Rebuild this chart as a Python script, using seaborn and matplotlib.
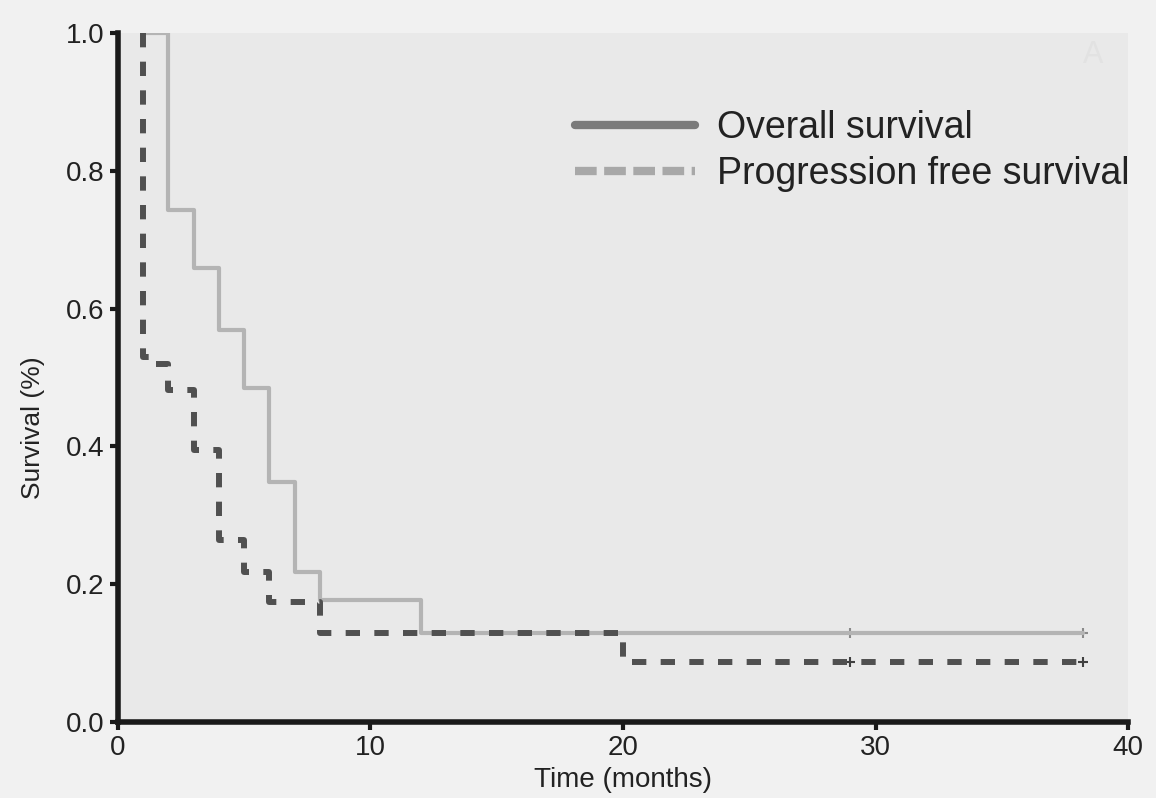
import seaborn as sns
import matplotlib.pyplot as plt
import pandas as pd
from matplotlib.lines import Line2D

# Kaplan-Meier step data (time in months, survival fraction)
os_time = [1, 2, 3, 4, 5, 6, 7, 8, 12, 38.2]
os_surv = [1.0, 0.743, 0.659, 0.569, 0.485, 0.348, 0.218, 0.177, 0.13, 0.13]

pfs_time = [1, 1, 1.4, 2, 3, 4, 5, 6, 8, 20, 38.2]
pfs_surv = [1.0, 0.53, 0.52, 0.482, 0.395, 0.264, 0.218, 0.175, 0.13, 0.088, 0.088]

# censored observations
cens_time = [29, 38.2]
os_cens = [0.13, 0.13]
pfs_cens = [0.088, 0.088]

x_ticks = [0, 10, 20, 30, 40]
y_ticks = [0.0, 0.2, 0.4, 0.6, 0.8, 1.0]

df = pd.concat([
    pd.DataFrame({'time': os_time, 'surv': os_surv, 'curve': 'Overall survival'}),
    pd.DataFrame({'time': pfs_time, 'surv': pfs_surv, 'curve': 'Progression free survival'}),
], ignore_index=True)

sns.set_style('ticks')
plt.rcParams['font.family'] = ['Liberation Sans', 'DejaVu Sans']

fig = plt.figure(figsize=(11.56, 7.98), dpi=100, facecolor='#f1f1f1')
ax = fig.add_axes([0.102, 0.095, 0.874, 0.864])
ax.set_facecolor('#e9e9e9')

sns.lineplot(data=df, x='time', y='surv', hue='curve', style='curve',
             palette={'Overall survival': '#b4b4b4', 'Progression free survival': '#505050'},
             dashes={'Overall survival': '', 'Progression free survival': (2.4, 2.4)},
             linewidth=3.0, drawstyle='steps-post', estimator=None, sort=False,
             legend=False, ax=ax)
# thicker dashed line for PFS
ax.lines[1].set_linewidth(4.3)

sns.scatterplot(x=cens_time, y=os_cens, marker='+', s=60, color='#8a8a8a', linewidth=1.5, ax=ax)
sns.scatterplot(x=cens_time, y=pfs_cens, marker='+', s=60, color='#404040', linewidth=1.5, ax=ax)

ax.set_xlim(0, 40)
ax.set_ylim(0, 1.0)
ax.set_xticks(x_ticks)
ax.set_yticks(y_ticks)
ax.set_yticklabels([f'{v:.1f}' for v in y_ticks])
ax.tick_params(labelsize=20, width=3, length=6, color='#1a1a1a', labelcolor='#222222')
for side in ['left', 'bottom']:
    ax.spines[side].set_linewidth(4)
    ax.spines[side].set_color('#1a1a1a')
sns.despine(ax=ax)

ax.set_xlabel('Time (months)', fontsize=20, color='#222222', labelpad=4)
ax.set_ylabel('Survival (%)', fontsize=19, color='#222222')
ax.yaxis.set_label_coords(-0.072, 0.427)

handles = [
    Line2D([], [], color='#7a7a7a', linewidth=6, linestyle='-'),
    Line2D([], [], color='#a8a8a8', linewidth=6, dashes=(2.6, 0.9)),
]
ax.legend(handles, ['Overall survival', 'Progression free survival'],
          loc='upper left', bbox_to_anchor=(0.43, 0.92), frameon=False,
          fontsize=27, handlelength=3.2, handletextpad=0.6, labelspacing=0.25,
          borderaxespad=0.2, labelcolor='#222222')

ax.text(0.965, 0.99, 'A', transform=ax.transAxes, fontsize=22, color='#e2e2e2',
        ha='center', va='top')

fig.savefig('out.png', dpi=100, facecolor=fig.get_facecolor())
